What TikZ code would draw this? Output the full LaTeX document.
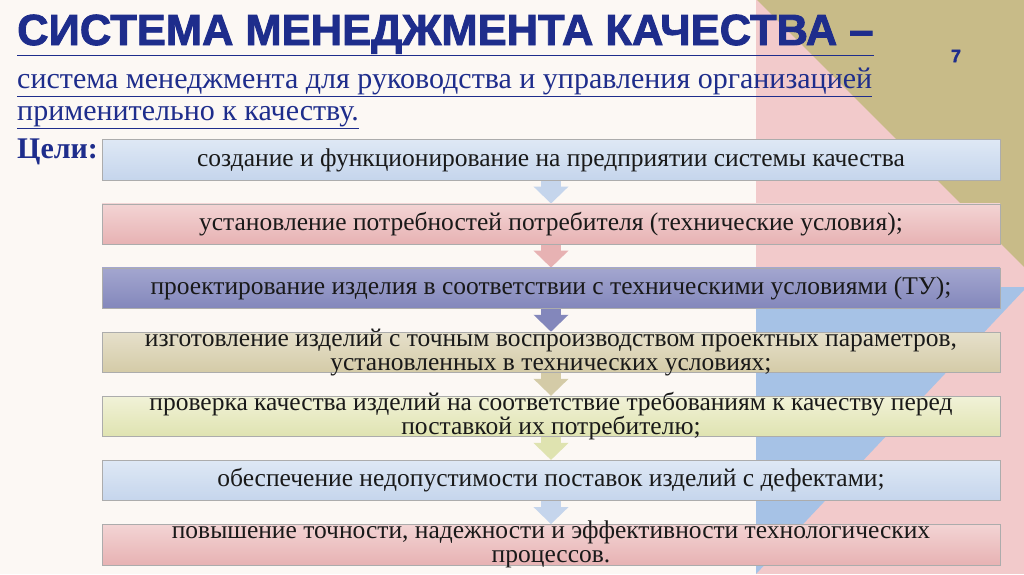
\documentclass[tikz,border=0pt]{standalone}
\usepackage{fontspec}
\setmainfont{Liberation Serif}
\newfontfamily\headfont{Liberation Sans}[FakeBold=2]
\usetikzlibrary{positioning,arrows.meta}
\pgfdeclarelayer{bg}
\pgfdeclarelayer{mid}
\pgfsetlayers{bg,mid,main}

\definecolor{cream}{HTML}{FCF8F4}
\definecolor{rosebg}{HTML}{F2CACB}
\definecolor{olivebg}{HTML}{C8BB88}
\definecolor{bluebg}{HTML}{A6C2E6}
\definecolor{navy}{HTML}{1E2D8C}
\definecolor{bluetop}{HTML}{DEE8F5}
\definecolor{bluebot}{HTML}{C5D5EC}
\definecolor{pinktop}{HTML}{F3D4D4}
\definecolor{pinkbot}{HTML}{E7B2B3}
\definecolor{purpletop}{HTML}{A3A6CF}
\definecolor{purplebot}{HTML}{8387BB}
\definecolor{beigetop}{HTML}{E6E0CB}
\definecolor{beigebot}{HTML}{D4CBA7}
\definecolor{yellowtop}{HTML}{F1F2D8}
\definecolor{yellowbot}{HTML}{DFE3B0}

\tikzset{
  goal/.style = {rectangle, draw=gray!65, line width=0.6pt,
    minimum width=898pt, minimum height=40.5pt, inner sep=0pt},
  bluegoal/.style = {goal, top color=bluetop, bottom color=bluebot},
  pinkgoal/.style = {goal, top color=pinktop, bottom color=pinkbot},
  purplegoal/.style = {goal, top color=purpletop, bottom color=purplebot},
  beigegoal/.style = {goal, top color=beigetop, bottom color=beigebot},
  yellowgoal/.style = {goal, top color=yellowtop, bottom color=yellowbot},
  goaltext/.style = {align=center, text=black!90,
    font=\fontsize{25.5}{24}\selectfont, inner sep=0pt},
  flow/.style = {line width=20pt, -{Triangle[width=34pt,length=17pt]}}
}

\begin{document}
\begin{tikzpicture}[x=1pt, y=-1pt]
  \useasboundingbox (0,0) rectangle (1024,574);

  % backdrop
  \begin{pgfonlayer}{bg}
    \fill[cream] (0,0) rectangle (1024,574);
    \fill[rosebg] (756,0) rectangle (1024,574);
    \fill[olivebg] (757,0) -- (1024,0) -- (1024,267) -- cycle;
    \fill[bluebg] (756,287) -- (1024,287) -- (1024,290) -- (756,574) -- cycle;
  \end{pgfonlayer}

  % heading
  \node[anchor=base west, text=navy, inner sep=0pt,
    font=\headfont\bfseries\fontsize{43.5}{44}\selectfont] (title) at (17,45)
    {\underline{СИСТЕМА МЕНЕДЖМЕНТА КАЧЕСТВА –}};
  \node[anchor=base west, text=navy, inner sep=0pt,
    font=\fontsize{30}{30}\selectfont] (def1) at (17,88)
    {\underline{система менеджмента для руководства и управления организацией}};
  \node[anchor=base west, text=navy, inner sep=0pt,
    font=\fontsize{30}{30}\selectfont] (def2) at (17,120)
    {\underline{применительно к качеству.}};
  \node[anchor=base west, text=navy, inner sep=0pt,
    font=\bfseries\fontsize{30}{30}\selectfont] (aims) at (17,158) {Цели:};
  \node[text=navy, inner sep=0pt, font=\headfont\bfseries\fontsize{18}{18}\selectfont] (page) at (956,56) {7};

  % goals
  \node[bluegoal] (b1) at (551,160) {};
  \node[pinkgoal, below=23pt of b1] (b2) {};
  \node[purplegoal, below=23pt of b2] (b3) {};
  \node[beigegoal, below=23pt of b3] (b4) {};
  \node[yellowgoal, below=23pt of b4] (b5) {};
  \node[bluegoal, below=23pt of b5] (b6) {};
  \node[pinkgoal, below=23pt of b6] (b7) {};

  \node[goaltext] (t1) at (b1) {создание и функционирование на предприятии системы качества};
  \node[goaltext] (t2) at (b2) {установление потребностей потребителя (технические условия);};
  \node[goaltext] (t3) at (b3) {проектирование изделия в соответствии с техническими условиями (ТУ);};
  \node[goaltext] (t4) at (b4) {изготовление изделий с точным воспроизводством проектных параметров,\\
    установленных в технических условиях;};
  \node[goaltext] (t5) at (b5) {проверка качества изделий на соответствие требованиям к качеству перед\\
    поставкой их потребителю;};
  \node[goaltext] (t6) at (b6) {обеспечение недопустимости поставок изделий с дефектами;};
  \node[goaltext] (t7) at (b7) {повышение точности, надежности и эффективности технологических\\
    процессов.};

  % block arrows
  \begin{pgfonlayer}{mid}
    \draw[flow, draw=bluebot] (b1.south) -- (b2.north);
    \draw[flow, draw=pinkbot] (b2.south) -- (b3.north);
    \draw[flow, draw=purplebot] (b3.south) -- (b4.north);
    \draw[flow, draw=beigebot] (b4.south) -- (b5.north);
    \draw[flow, draw=yellowbot] (b5.south) -- (b6.north);
    \draw[flow, draw=bluebot] (b6.south) -- (b7.north);
  \end{pgfonlayer}
\end{tikzpicture}
\end{document}
